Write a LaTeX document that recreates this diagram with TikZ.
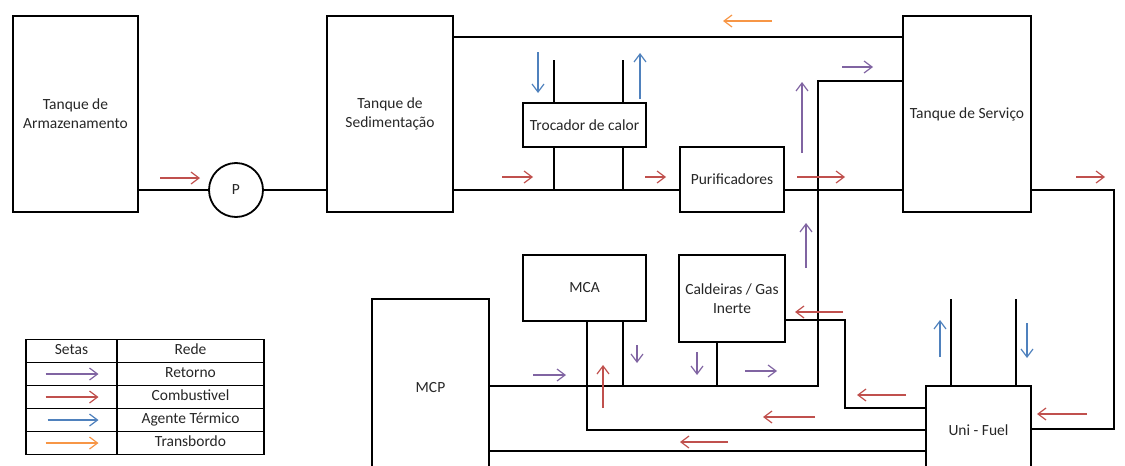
\documentclass[tikz,border=0pt]{standalone}
\usepackage{fontspec}
\setmainfont{Carlito}
\usepackage{tikz}
\usetikzlibrary{arrows.meta,matrix}
\definecolor{retorno}{HTML}{8064A2}
\definecolor{combust}{HTML}{C0504D}
\definecolor{termico}{HTML}{4F81BD}
\definecolor{transb}{HTML}{F79646}

\begin{document}
\begin{tikzpicture}[x=1pt, y=-1pt,
      font=\fontsize{15.5}{19}\selectfont,
      box/.style={draw, line width=1.8pt, align=center, inner sep=2pt, text=black!85},
      tank/.style={box, minimum width=126pt, minimum height=196pt},
      pipe/.style={line width=1.8pt},
      flow/.style={-{Straight Barb[length=8pt,width=12pt]}, line width=1.2pt},
      ret/.style={flow, retorno},
      comb/.style={flow, combust},
      term/.style={flow, termico},
      trans/.style={flow, transb}
    ]
      \useasboundingbox (0,0) rectangle (1125,466);
      \clip (0,0) rectangle (1125,466);

      % tanques
      \node[tank, minimum width=125pt] (armaz) at (75.5,114) {Tanque de\\Armazenamento};
      \node[tank] (sedim) at (390,114) {Tanque de\\Sedimentação};
      \node[tank, minimum width=128pt] (servico) at (967,114) {Tanque de Serviço};
      \node[box, circle, minimum size=54pt] (pump) at (236,190) {P};

      % equipamentos
      \node[box, minimum width=123pt, minimum height=44pt] (troc) at (584.5,125) {Trocador de calor};
      \node[box, minimum width=104pt, minimum height=65pt] (purif) at (732,179.5) {Purificadores};
      \node[box, minimum width=123pt, minimum height=66pt] (mca) at (584.5,288) {MCA};
      \node[box, minimum width=106pt, minimum height=87pt] (cald) at (732,298.5) {Caldeiras / Gas\\Inerte};
      \node[box, minimum width=117pt, minimum height=177pt] (mcp) at (430.5,387.5) {MCP};
      \node[box, minimum width=105pt, minimum height=88pt] (unifuel) at (978.5,430) {Uni - Fuel};

      \coordinate (topret) at (818,81);
      \coordinate (botret) at (818,386);
      \coordinate (rt) at (1114,190);

      % linhas
      \draw[pipe] (armaz.east |- pump) -- (pump.west);
      \draw[pipe] (pump.east) -- (sedim.west |- pump);
      \draw[pipe] (sedim.east |- 0,37) -- (servico.west |- 0,37);
      \draw[pipe] (sedim.east |- pump) -- (purif.west |- pump);
      \draw[pipe] (purif.east |- pump) -- (servico.west |- pump);
      \foreach \x in {554,623} {
        \draw[pipe] (\x,60) -- (troc.north -| \x,0);
        \draw[pipe] (troc.south -| \x,0) -- (\x,0 |- pump);
      }
      \draw[pipe] (servico.west |- topret) -- (topret) -- (botret) -- (mcp.east |- botret);
      \draw[pipe] (servico.east |- rt) -- (rt) -- (1114,429) -- (unifuel.east |- 0,429);
      \draw[pipe] (mca.south -| 623,0) -- (623,0 |- botret);
      \draw[pipe] (cald.south -| 717,0) -- (717,0 |- botret);
      \foreach \x in {951,1016}
        \draw[pipe] (\x,299) -- (unifuel.north -| \x,0);
      \draw[pipe] (unifuel.west |- 0,408) -- (845,408) -- (845,320) -- (cald.east |- 0,320);
      \draw[pipe] (unifuel.west |- 0,430) -- (587,430) -- (mca.south -| 587,0);
      \draw[pipe] (unifuel.west |- 0,451) -- (mcp.east |- 0,451);

      % setas
      \draw[trans] (772,21) -- (723,21);
      \draw[comb] (160,178) -- (200,178);
      \draw[comb] (502,177) -- (533,177);
      \draw[comb] (645,177) -- (666,177);
      \draw[comb] (797,177) -- (845,177);
      \draw[comb] (1076,177) -- (1105,177);
      \draw[comb] (1087,414) -- (1037,414);
      \draw[comb] (843,312) -- (795,312);
      \draw[comb] (906,395) -- (857,395);
      \draw[comb] (815,417) -- (763,417);
      \draw[comb] (728,442) -- (680,442);
      \draw[comb] (603,408) -- (603,365);
      \draw[ret] (842,67) -- (873,67);
      \draw[ret] (802,153) -- (802,82);
      \draw[ret] (806,268) -- (806,223);
      \draw[ret] (533,375) -- (566,375);
      \draw[ret] (637,345) -- (637,363);
      \draw[ret] (697,352) -- (697,375);
      \draw[ret] (745,371) -- (777,371);
      \draw[term] (538,52) -- (538,93);
      \draw[term] (640,99) -- (640,53);
      \draw[term] (940,357) -- (940,320);
      \draw[term] (1027,323) -- (1027,358);

      % legenda
      \matrix (leg) at (145,397) [matrix of nodes, nodes in empty cells,
          row sep=-1.2pt, column sep=-1.2pt,
          nodes={draw, line width=1.2pt, minimum height=23pt, text height=11pt,
                 text depth=4pt, inner sep=1pt, text=black!85},
          column 1/.style={nodes={minimum width=91pt}},
          column 2/.style={nodes={minimum width=147pt}}] {
        Setas & Rede \\
              & Retorno \\
              & Combustivel \\
              & Agente Térmico \\
              & Transbordo \\
      };
      \draw[ret] ([xshift=-26pt]leg-2-1.center) -- ([xshift=27pt]leg-2-1.center);
      \draw[comb] ([xshift=-26pt]leg-3-1.center) -- ([xshift=27pt]leg-3-1.center);
      \draw[term] ([xshift=-24pt]leg-4-1.center) -- ([xshift=27pt]leg-4-1.center);
      \draw[trans] ([xshift=-26pt]leg-5-1.center) -- ([xshift=27pt]leg-5-1.center);
    \end{tikzpicture}
\end{document}
